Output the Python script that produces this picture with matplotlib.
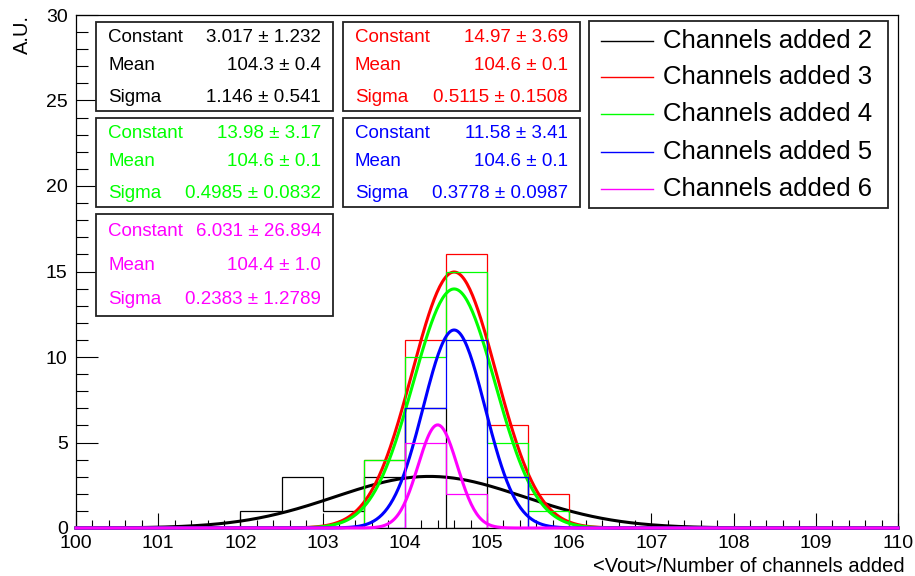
import numpy as np
import matplotlib
matplotlib.use("Agg")
import matplotlib.pyplot as plt
from matplotlib.patches import Rectangle
from matplotlib.lines import Line2D
from matplotlib.ticker import MultipleLocator

plt.rcParams['font.family'] = ['Liberation Sans', 'DejaVu Sans']

# histogram binning (0.5 wide bins between 100 and 110)
bin_edges = np.arange(100.0, 110.5, 0.5)

# counts per bin, one list per channel setting (20 bins: 100.0 ... 109.5)
counts_2 = [0, 0, 0, 0, 1, 3, 1, 3, 7, 0, 3, 0, 0, 0, 0, 0, 0, 0, 0, 0]
counts_3 = [0, 0, 0, 0, 0, 0, 0, 4, 11, 16, 6, 2, 0, 0, 0, 0, 0, 0, 0, 0]
counts_4 = [0, 0, 0, 0, 0, 0, 0, 4, 10, 15, 5, 1, 0, 0, 0, 0, 0, 0, 0, 0]
counts_5 = [0, 0, 0, 0, 0, 0, 0, 0, 7, 11, 3, 0, 0, 0, 0, 0, 0, 0, 0, 0]
counts_6 = [0, 0, 0, 0, 0, 0, 0, 0, 5, 2, 0, 0, 0, 0, 0, 0, 0, 0, 0, 0]

# gaussian fit results: (constant, mean, sigma)
fit_2 = (3.017, 104.3, 1.146)
fit_3 = (14.97, 104.6, 0.5115)
fit_4 = (13.98, 104.6, 0.4985)
fit_5 = (11.58, 104.6, 0.3778)
fit_6 = (6.031, 104.4, 0.2383)

# text shown in the stat boxes
stat_text_2 = ["3.017 ± 1.232", "104.3 ± 0.4", "1.146 ± 0.541"]
stat_text_3 = ["14.97 ± 3.69", "104.6 ± 0.1", "0.5115 ± 0.1508"]
stat_text_4 = ["13.98 ± 3.17", "104.6 ± 0.1", "0.4985 ± 0.0832"]
stat_text_5 = ["11.58 ± 3.41", "104.6 ± 0.1", "0.3778 ± 0.0987"]
stat_text_6 = ["6.031 ± 26.894", "104.4 ± 1.0", "0.2383 ± 1.2789"]
stat_names = ["Constant", "Mean", "Sigma"]

legend_labels = ["Channels added 2", "Channels added 3", "Channels added 4",
                 "Channels added 5", "Channels added 6"]
colors = ["#000000", "#ff0000", "#00ff00", "#0000ff", "#ff00ff"]

W, H = 915, 576
fig = plt.figure(figsize=(W / 100, H / 100), dpi=100)


def fx(px):
    return px / W


def fy(py):
    # py measured from the top of the image
    return 1 - py / H


ax = fig.add_axes([fx(76), fy(528), fx(898) - fx(76), fy(15) - fy(528)])

xs = np.linspace(100, 110, 600)
all_counts = [counts_2, counts_3, counts_4, counts_5, counts_6]
all_fits = [fit_2, fit_3, fit_4, fit_5, fit_6]

z = 2
for counts, (c, m, s), col in zip(all_counts, all_fits, colors):
    ax.stairs(counts, bin_edges, color=col, lw=0.9, baseline=0, zorder=z)
    ax.plot(xs, c * np.exp(-0.5 * ((xs - m) / s) ** 2), color=col, lw=2.2,
            zorder=z + 1, solid_joinstyle='round', clip_on=False)
    z += 2

ax.set_xlim(100, 110)
ax.set_ylim(0, 30)
ax.xaxis.set_major_locator(MultipleLocator(1))
ax.xaxis.set_minor_locator(MultipleLocator(0.2))
ax.yaxis.set_major_locator(MultipleLocator(5))
ax.yaxis.set_minor_locator(MultipleLocator(1))
ax.tick_params(axis='x', which='major', direction='in', length=10.5, width=0.8,
               labelsize=14, pad=5)
ax.tick_params(axis='x', which='minor', direction='in', length=5.5, width=0.8)
ax.tick_params(axis='y', which='major', direction='in', length=16, width=0.8,
               labelsize=14, pad=6)
ax.tick_params(axis='y', which='minor', direction='in', length=8.5, width=0.8)
for sp in ax.spines.values():
    sp.set_linewidth(0.9)

fig.text(fx(905), fy(566), "<Vout>/Number of channels added", ha='right',
         va='center', fontsize=14.5)
fig.text(fx(22), fy(15), "A.U.", rotation=90, ha='center', va='top',
         fontsize=14.5)


def stat_box(x0, y0, x1, y1, rows_y, values, col):
    fig.add_artist(Rectangle((fx(x0), fy(y1)), fx(x1) - fx(x0), fy(y0) - fy(y1),
                             transform=fig.transFigure, facecolor='white',
                             edgecolor='#222222', lw=1.3, zorder=20))
    for ry, name, val in zip(rows_y, stat_names, values):
        fig.text(fx(x0 + 12), fy(ry), name, color=col, ha='left', va='center',
                 fontsize=13.5, zorder=21)
        fig.text(fx(x1 - 12), fy(ry), val, color=col, ha='right', va='center',
                 fontsize=13.5, zorder=21)


stat_box(96, 22, 333, 111, [37, 66, 97], stat_text_2, colors[0])
stat_box(343, 22, 580, 111, [37, 66, 97], stat_text_3, colors[1])
stat_box(96, 118, 333, 207, [133, 162, 193], stat_text_4, colors[2])
stat_box(343, 118, 580, 207, [133, 162, 193], stat_text_5, colors[3])
stat_box(96, 214, 333, 316, [232, 266, 300], stat_text_6, colors[4])

# legend box
fig.add_artist(Rectangle((fx(589), fy(208)), fx(888) - fx(589), fy(21) - fy(208),
                         transform=fig.transFigure, facecolor='white',
                         edgecolor='#222222', lw=1.3, zorder=20))
for ly, lab, col in zip([41, 77, 114, 152, 189], legend_labels, colors):
    fig.add_artist(Line2D([fx(601), fx(653)], [fy(ly), fy(ly)], color=col,
                          lw=1.0, transform=fig.transFigure, zorder=21))
    fig.text(fx(663), fy(ly), lab, ha='left', va='center', fontsize=18.5,
             zorder=21)

fig.savefig("out.png", dpi=100)
